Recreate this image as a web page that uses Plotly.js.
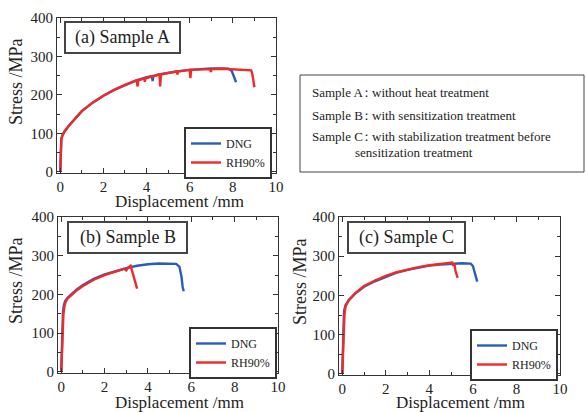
<!DOCTYPE html>
<html>
<head>
<meta charset="utf-8">
<script src="https://cdn.plot.ly/plotly-3.0.1.min.js"></script>
<style>html,body{margin:0;padding:0;background:#fff;}#chart{width:586px;height:412px;}</style>
</head>
<body>
<div id="chart"></div>
<script>
// ---- Data ----
// Sample A
const aDngX = [0, 0.02, 0.05, 0.1, 0.2, 0.4, 0.7, 1.0, 1.5, 2.0, 2.5, 3.0, 3.5, 4.0, 4.25, 4.28, 4.32, 4.5, 5.0, 5.5, 6.0, 6.5, 7.0, 7.5, 7.8, 7.95, 8.05, 8.1, 8.15];
const aDngY = [0, 40, 85, 95, 105, 120, 140, 158, 180, 198, 213, 226, 237, 246, 249, 236, 249, 253, 258, 262, 265, 267, 269, 269, 268, 262, 248, 240, 233];
const aRhX = [0, 0.02, 0.05, 0.1, 0.2, 0.4, 0.7, 1.0, 1.5, 2.0, 2.5, 3.0, 3.55, 3.58, 3.62, 3.9, 3.92, 3.95, 4.0, 4.6, 4.63, 4.67, 5.0, 5.4, 5.43, 5.46, 6.0, 6.03, 6.07, 6.5, 6.95, 6.98, 7.02, 7.5, 8.0, 8.5, 8.85, 8.9, 8.95, 9.0];
const aRhY = [0, 40, 85, 95, 105, 120, 140, 158, 180, 198, 213, 226, 238, 222, 238, 243, 234, 243, 244, 253, 222, 253, 257, 261, 253, 261, 265, 244, 265, 266, 267, 260, 267, 268, 267, 266, 264, 255, 235, 220];
// Sample B
const bDngX = [0, 0.03, 0.08, 0.12, 0.18, 0.3, 0.5, 0.7, 1.0, 1.5, 2.0, 2.5, 3.0, 3.5, 4.0, 4.5, 5.0, 5.3, 5.45, 5.55, 5.6, 5.65];
const bDngY = [0, 100, 155, 172, 183, 192, 203, 212, 224, 240, 252, 261, 268, 274, 278, 280, 280, 279, 272, 245, 220, 208];
const bRhX = [0, 0.05, 0.1, 0.15, 0.2, 0.3, 0.5, 0.7, 1.0, 1.5, 2.0, 2.5, 2.9, 3.0, 3.1, 3.2, 3.25, 3.3, 3.35, 3.4, 3.45, 3.5];
const bRhY = [0, 80, 150, 170, 180, 190, 201, 210, 222, 238, 250, 260, 266, 262, 270, 274, 264, 258, 248, 240, 225, 215];
// Sample C
const cDngX = [0, 0.03, 0.08, 0.15, 0.3, 0.6, 1.0, 1.5, 2.0, 2.5, 3.0, 3.5, 4.0, 4.5, 5.0, 5.5, 5.9, 6.0, 6.1, 6.15, 6.2];
const cDngY = [0, 100, 160, 175, 188, 205, 222, 236, 248, 258, 265, 271, 276, 279, 281, 282, 281, 275, 255, 240, 235];
const cRhX = [0, 0.05, 0.1, 0.15, 0.3, 0.6, 1.0, 1.5, 2.0, 2.5, 3.0, 3.5, 4.0, 4.5, 4.9, 5.05, 5.1, 5.15, 5.2, 5.25, 5.3];
const cRhY = [0, 80, 150, 172, 188, 206, 224, 238, 250, 259, 266, 272, 277, 280, 283, 284, 275, 282, 262, 250, 245];

const seriesNames = ['DNG', 'RH90%'];
const panelTitles = ['(a) Sample A', '(b) Sample B', '(c) Sample C'];
const noteLabels = ['Sample A', 'Sample B', 'Sample C'];
const noteTexts = ['without heat treatment', 'with sensitization treatment', 'with stabilization treatment before', 'sensitization treatment'];
const xTitle = 'Displacement /mm';
const yTitle = 'Stress /MPa';
const xTicks = [0, 2, 4, 6, 8, 10];
const yTicks = [0, 100, 200, 300, 400];

// ---- Styles ----
const BLUE = '#2a5cb8', RED = '#ee2a2a';
const FONT = 'Liberation Serif';
const TXT = '#222';
const W = 586, H = 412;
const px = x => x / W, py = y => 1 - y / H;

function tr(x, y, name, color, xa, ya, leg) {
  return {x: x, y: y, name: name, type: 'scatter', mode: 'lines', xaxis: xa, yaxis: ya,
    legend: leg, line: {color: color, width: 2.4}, showlegend: true};
}
const data = [
  tr(aDngX, aDngY, seriesNames[0], BLUE, 'x', 'y', 'legend'),
  tr(aRhX, aRhY, seriesNames[1], RED, 'x', 'y', 'legend'),
  tr(bDngX, bDngY, seriesNames[0], BLUE, 'x2', 'y2', 'legend2'),
  tr(bRhX, bRhY, seriesNames[1], RED, 'x2', 'y2', 'legend2'),
  tr(cDngX, cDngY, seriesNames[0], BLUE, 'x3', 'y3', 'legend3'),
  tr(cRhX, cRhY, seriesNames[1], RED, 'x3', 'y3', 'legend3')
];

function xax(l, r, anchor) {
  return {domain: [px(l), px(r)], anchor: anchor, range: [-0.15, 10], tickvals: xTicks,
    ticks: 'inside', ticklen: 5, tickcolor: '#333', showline: true, linecolor: '#333', linewidth: 1,
    mirror: 'ticks', showgrid: false, zeroline: false, fixedrange: true,
    minor: {tickvals: [1, 3, 5, 7, 9], ticks: 'inside', ticklen: 3, tickcolor: '#333', showgrid: false},
    tickfont: {family: FONT, size: 15, color: TXT}};
}
function yax(t, b, anchor) {
  return {domain: [py(b), py(t)], anchor: anchor, range: [-3, 400], tickvals: yTicks,
    ticks: 'inside', ticklen: 5, tickcolor: '#333', showline: true, linecolor: '#333', linewidth: 1,
    mirror: 'ticks', showgrid: false, zeroline: false, fixedrange: true,
    minor: {tickvals: [50, 150, 250, 350], ticks: 'inside', ticklen: 3, tickcolor: '#333', showgrid: false},
    tickfont: {family: FONT, size: 15, color: TXT}};
}

function leg(x, y) {
  return {x: px(x), y: py(y), xanchor: 'left', yanchor: 'top', xref: 'paper', yref: 'paper',
    bgcolor: '#fff', bordercolor: '#333', borderwidth: 2, font: {family: FONT, size: 12, color: TXT},
    tracegroupgap: 0, itemwidth: 30, traceorder: 'normal'};
}

const boxes = [[65, 22, 180, 53], [68, 222, 187, 253], [348, 222, 465, 253]];
const shapes = boxes.map(b => ({type: 'rect', xref: 'paper', yref: 'paper',
  x0: px(b[0]), x1: px(b[2]), y0: py(b[3]), y1: py(b[1]), line: {color: '#444', width: 2}, fillcolor: '#fff', layer: 'above'}));
shapes.push({type: 'rect', xref: 'paper', yref: 'paper', x0: px(300), x1: px(584), y0: py(172), y1: py(75),
  line: {color: '#444', width: 1}});

const annotations = [];
function ann(text, x, y, xanchor, size, extra) {
  annotations.push(Object.assign({text: text, xref: 'paper', yref: 'paper', x: px(x), y: py(y),
    xanchor: xanchor, yanchor: 'middle', showarrow: false, font: {family: FONT, size: size, color: TXT}}, extra || {}));
}
boxes.forEach((b, i) => ann(panelTitles[i], (b[0] + b[2]) / 2, (b[1] + b[3]) / 2, 'center', 18));
// axis titles
[[179, 201], [179, 402], [460, 402]].forEach(p => ann(xTitle, p[0], p[1], 'center', 17));
[[16, 82], [16, 281], [300, 282]].forEach(p => ann(yTitle, p[0], p[1], 'center', 18, {textangle: -90}));
// note box
const noteY = [92, 115, 136, 152];
noteLabels.forEach((t, i) => {
  ann(t, 310, noteY[i], 'left', 13);
  ann('：', 358, noteY[i], 'left', 13);
});
noteTexts.forEach((t, i) => ann(t, i === 3 ? 353 : 370, noteY[i], 'left', 13));

const layout = {
  width: W, height: H, autosize: false, margin: {l: 0, r: 0, t: 0, b: 0},
  paper_bgcolor: '#fff', plot_bgcolor: '#fff',
  xaxis: xax(57, 276, 'y'), yaxis: yax(18, 173, 'x'),
  xaxis2: xax(58, 278, 'y2'), yaxis2: yax(217, 373, 'x2'),
  xaxis3: xax(339, 560, 'y3'), yaxis3: yax(217, 375, 'x3'),
  legend: leg(184, 127), legend2: leg(189, 327), legend3: leg(470, 329),
  shapes: shapes, annotations: annotations
};
Plotly.newPlot('chart', data, layout, {staticPlot: true, displayModeBar: false});
</script>
</body>
</html>
